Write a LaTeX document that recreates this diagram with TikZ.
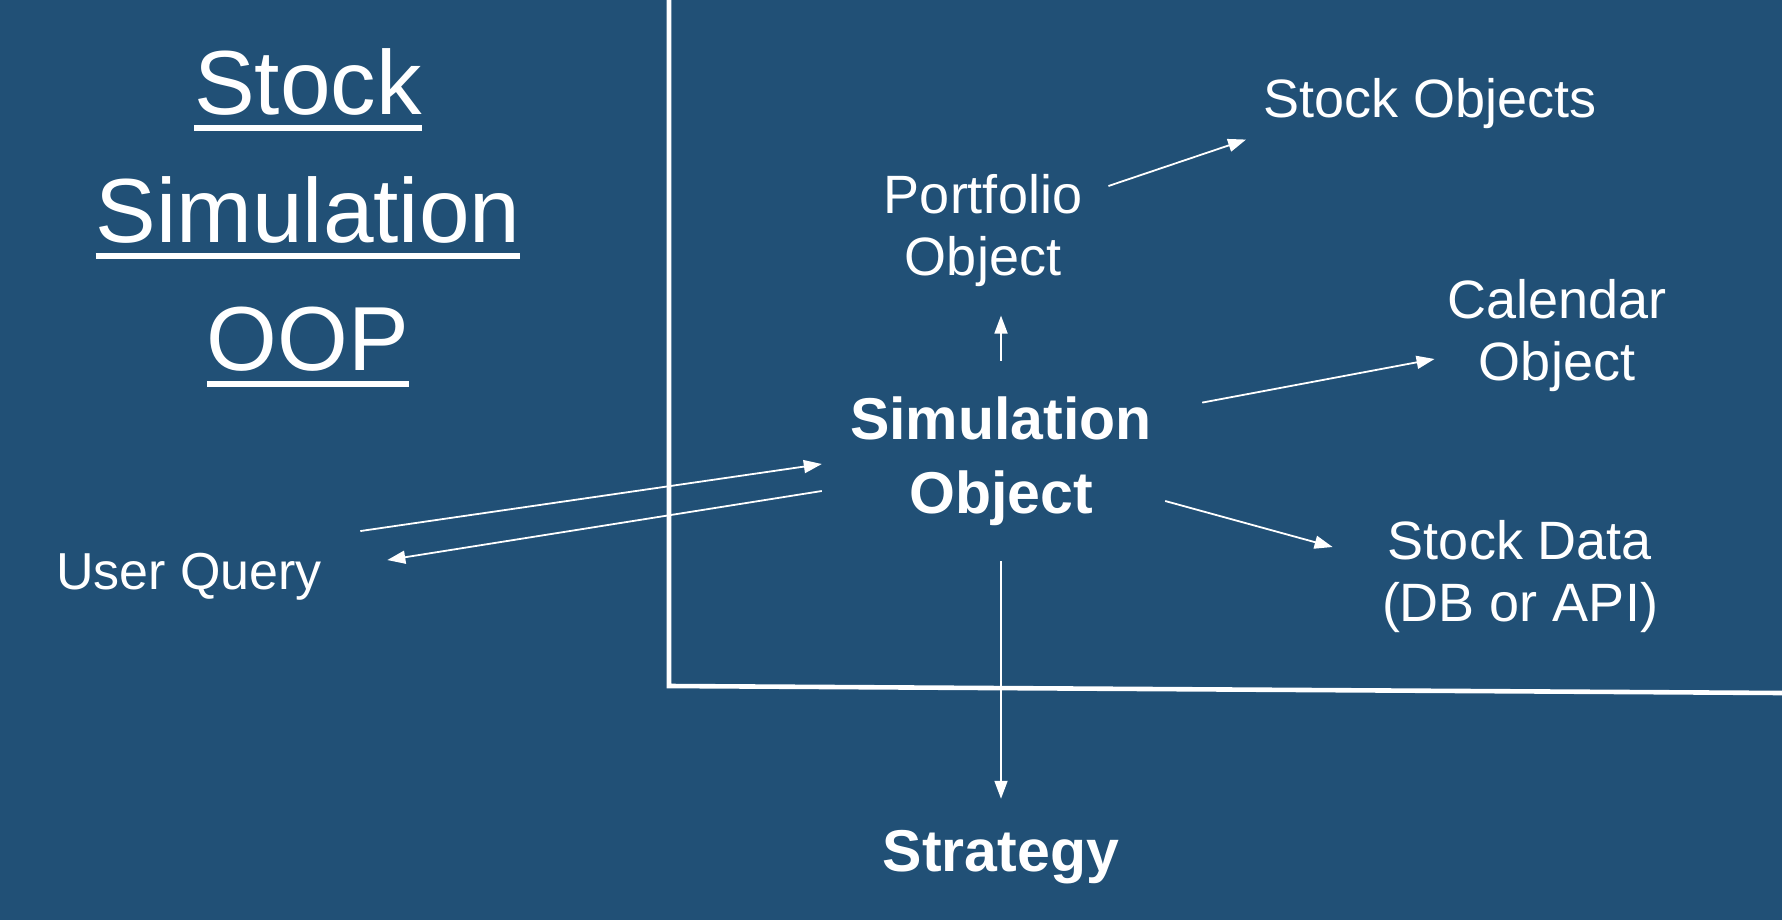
\documentclass[tikz,border=0pt]{standalone}
\usepackage{fontspec}
\setmainfont{Liberation Sans}
\usetikzlibrary{arrows.meta, calc}
\definecolor{slide}{RGB}{33,80,118}
\newcommand\titleul[1]{\setbox0=\hbox{#1}\leavevmode\rlap{\rule[-8pt]{\wd0}{3pt}}\box0}

\begin{document}
\begin{tikzpicture}[x=0.5pt, y=-0.5pt,
  lbl/.style={text=white, inner sep=0pt, align=center, font=\fontsize{27}{31}\selectfont},
  bold/.style={lbl, font=\fontsize{29.5}{37}\selectfont\bfseries},
  title/.style={lbl, font=\fontsize{45.5}{64}\selectfont},
  arr/.style={white, line width=0.9pt, -{Triangle[length=9pt,width=6.5pt]}}]
  % slide background
  \fill[slide] (0,0) rectangle (1782,920);
  \useasboundingbox (0,0) rectangle (1782,920);
  \draw[white, line width=2.3pt] (669,0) -- (669,686) -- (1782,693);

  % title
  \node[title] (ttl) at (308,218) {\titleul{Stock}\\\titleul{Simulation}\\\titleul{OOP}};

  % objects
  \node[lbl] (sobj) at (1430,104) {Stock Objects};
  \node[lbl] (port) at (983,231) {Portfolio\\Object};
  \node[lbl] (cal) at (1557,335.5) {Calendar\\Object};
  \node[bold] (sim) at (1001,461.5) {Simulation\\Object};
  \node[lbl] (sdata) at (1520,577) {Stock Data\\(DB or API)};
  \node[lbl, font=\fontsize{26}{31}\selectfont] (uq) at (189,577) {User Query};
  \node[bold] (strat) at (1001,857) {Strategy};

  % links
  \draw[arr] ($(port.east)+(26,-45)$) -- ($(sobj.south west)+(-17,10)$);
  \draw[arr] ($(sim.north)+(0,-36)$) -- ($(sim.north |- port.south)+(0,28)$);
  \draw[arr] ($(sim.north east)+(50,6)$) -- ($(cal.west)+(-12.5,23.5)$);
  \draw[arr] ($(sim.east)+(13,39.5)$) -- ($(sdata.west)+(-49,-30)$);
  \draw[arr] ($(sim.south)+(0,35)$) -- ($(strat.north)+(0,-31)$);
  \draw[arr] ($(uq.north east)+(38,-22)$) -- ($(sim.west)+(-28,2.5)$);
  \draw[arr] ($(sim.west)+(-28,29.5)$) -- ($(uq.north east)+(65,7)$);
\end{tikzpicture}
\end{document}
